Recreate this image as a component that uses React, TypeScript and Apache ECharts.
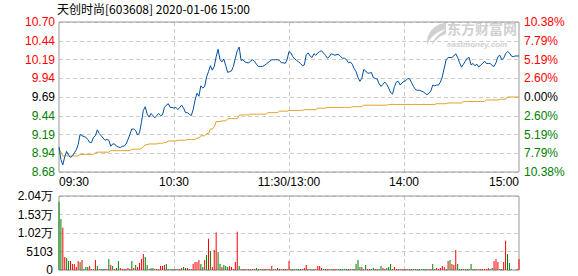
import React, { useEffect, useRef } from "react";
import * as echarts from "echarts";

const TITLE = "天创时尚[603608] 2020-01-06 15:00";
const PREV_CLOSE = 9.69;
const PRICE_STEP = 0.2515;
const PRICE_LABELS = ["8.68", "8.94", "9.19", "9.44", "9.69", "9.94", "10.19", "10.44", "10.70"];
const PCT_LABELS = ["10.38%", "7.79%", "5.19%", "2.60%", "0.00%", "2.60%", "5.19%", "7.79%", "10.38%"];
const VOL_MAX = 20412;
const VOL_STEP = 5103;
const VOL_LABELS = ["0", "5103", "1.02万", "1.53万", "2.04万"];
const TIME_LABELS = ["09:30", "10:30", "11:30/13:00", "14:00", "15:00"];

const PRICE = [
  9.02, 8.85, 8.78, 8.89, 8.96, 8.91, 8.88, 8.9, 8.94, 8.98,
  9.05, 9.19, 9.17, 9.16, 9.15, 9.12, 9.08, 9.08, 9.15, 9.17,
  9.25, 9.2, 9.17, 9.14, 9.11, 9.12, 9.11, 9.03, 9.06, 9.06,
  9.03, 9.02, 9.01, 9.03, 9.03, 9.06, 9.12, 9.19, 9.26, 9.26,
  9.24, 9.18, 9.21, 9.35, 9.51, 9.56, 9.46, 9.42, 9.47, 9.44,
  9.41, 9.44, 9.47, 9.44, 9.45, 9.55, 9.58, 9.6, 9.55, 9.55,
  9.54, 9.55, 9.52, 9.55, 9.58, 9.54, 9.48, 9.48, 9.46, 9.44,
  9.52, 9.65, 9.74, 9.7, 9.84, 9.81, 9.83, 9.96, 10.03, 10.11,
  10.05, 10.1, 10.23, 10.33, 10.19, 10.16, 10.2, 10.11, 10.02, 10.03,
  10.04, 10.1, 10.21, 10.31, 10.36, 10.18, 10.19, 10.16, 10.15, 10.15,
  10.17, 10.19, 10.17, 10.13, 10.1, 10.1, 10.1, 10.11, 10.13, 10.15,
  10.17, 10.19, 10.19, 10.19, 10.19, 10.18, 10.15, 10.15, 10.14, 10.19,
  10.3, 10.28, 10.23, 10.2, 10.18, 10.16, 10.14, 10.11, 10.12, 10.26,
  10.28, 10.24, 10.22, 10.27, 10.25, 10.28, 10.3, 10.31, 10.28, 10.25,
  10.21, 10.23, 10.27, 10.26, 10.25, 10.26, 10.26, 10.23, 10.21, 10.21,
  10.19, 10.15, 10.16, 10.13, 10.07, 10.03, 9.95, 9.9, 9.94, 10.06,
  10.04, 10.01, 10.01, 10.02, 9.95, 9.94, 9.93, 9.87, 9.83, 9.86,
  9.89, 9.86, 9.81, 9.75, 9.73, 9.83, 9.89, 9.9, 9.85, 9.88,
  9.9, 9.91, 9.94, 9.93, 9.88, 9.83, 9.79, 9.78, 9.78, 9.77,
  9.76, 9.74, 9.72, 9.74, 9.77, 9.85, 9.84, 9.85, 9.85, 9.89,
  9.96, 10.08, 10.19, 10.22, 10.22, 10.22, 10.24, 10.27, 10.22, 10.15,
  10.09, 10.13, 10.17, 10.21, 10.22, 10.12, 10.14, 10.11, 10.13, 10.09,
  10.12, 10.14, 10.17, 10.14, 10.14, 10.14, 10.11, 10.1, 10.15, 10.23,
  10.25, 10.19, 10.21, 10.27, 10.3, 10.28, 10.24, 10.23, 10.24, 10.24,
  10.24,
];

const AVG = [
  8.99, 8.95, 8.9, 8.9, 8.9, 8.9, 8.9, 8.9, 8.9, 8.9,
  8.9, 8.92, 8.92, 8.92, 8.92, 8.92, 8.92, 8.92, 8.92, 8.94,
  8.95, 8.95, 8.95, 8.95, 8.95, 8.95, 8.95, 8.97, 8.97, 8.97,
  8.97, 8.97, 8.97, 8.97, 8.97, 8.97, 8.97, 8.97, 8.99, 8.99,
  8.99, 8.99, 8.99, 9.0, 9.02, 9.05, 9.05, 9.06, 9.06, 9.06,
  9.06, 9.06, 9.07, 9.07, 9.07, 9.08, 9.08, 9.1, 9.1, 9.1,
  9.1, 9.1, 9.11, 9.11, 9.11, 9.11, 9.11, 9.12, 9.12, 9.12,
  9.12, 9.12, 9.14, 9.14, 9.17, 9.17, 9.17, 9.2, 9.2, 9.26,
  9.26, 9.29, 9.36, 9.36, 9.36, 9.37, 9.37, 9.37, 9.4, 9.4,
  9.4, 9.4, 9.4, 9.4, 9.44, 9.45, 9.45, 9.45, 9.45, 9.45,
  9.46, 9.46, 9.46, 9.46, 9.46, 9.46, 9.46, 9.46, 9.46, 9.48,
  9.48, 9.48, 9.48, 9.48, 9.48, 9.5, 9.5, 9.5, 9.5, 9.5,
  9.51, 9.51, 9.51, 9.51, 9.51, 9.51, 9.51, 9.51, 9.52, 9.52,
  9.52, 9.52, 9.52, 9.52, 9.52, 9.54, 9.54, 9.54, 9.54, 9.54,
  9.55, 9.55, 9.55, 9.55, 9.55, 9.55, 9.55, 9.55, 9.55, 9.55,
  9.55, 9.55, 9.55, 9.56, 9.56, 9.56, 9.56, 9.56, 9.56, 9.58,
  9.58, 9.58, 9.58, 9.58, 9.58, 9.58, 9.58, 9.58, 9.58, 9.58,
  9.58, 9.58, 9.59, 9.59, 9.59, 9.59, 9.59, 9.59, 9.59, 9.59,
  9.59, 9.59, 9.59, 9.59, 9.59, 9.59, 9.59, 9.59, 9.59, 9.59,
  9.59, 9.59, 9.59, 9.59, 9.59, 9.59, 9.59, 9.6, 9.6, 9.6,
  9.6, 9.6, 9.6, 9.61, 9.61, 9.61, 9.61, 9.61, 9.61, 9.61,
  9.61, 9.63, 9.63, 9.63, 9.63, 9.63, 9.63, 9.63, 9.63, 9.63,
  9.63, 9.63, 9.63, 9.65, 9.65, 9.65, 9.65, 9.65, 9.65, 9.65,
  9.66, 9.66, 9.66, 9.66, 9.69, 9.69, 9.69, 9.69, 9.69, 9.69,
  9.69,
];

const VOLUME = [
  18850, 14050, 11640, 3600, 3330, 2500, 2500, 1660, 1660, 830,
  2500, 2220, 2770, 280, 830, 830, 1110, 280, 280, 2770,
  1110, 280, 280, 280, 280, 280, 3050, 1390, 1110, 280,
  550, 2500, 550, 280, 280, 280, 550, 280, 2500, 550,
  1390, 830, 1940, 3050, 4440, 3600, 1390, 280, 550, 550,
  280, 280, 280, 1110, 1110, 1390, 1660, 280, 280, 280,
  280, 280, 280, 280, 550, 830, 550, 550, 280, 280,
  1660, 2220, 2220, 2770, 1660, 830, 2770, 4160, 8590, 5270,
  830, 5540, 10350, 4990, 1660, 830, 1390, 1110, 830, 1110,
  830, 280, 2220, 10530, 1110, 280, 280, 280, 280, 280,
  280, 280, 280, 550, 280, 280, 280, 280, 280, 280,
  280, 1110, 280, 280, 550, 280, 280, 280, 280, 280,
  2500, 280, 280, 280, 280, 280, 280, 280, 550, 1390,
  280, 280, 280, 280, 280, 1110, 1110, 550, 280, 280,
  280, 280, 280, 280, 280, 280, 280, 280, 280, 280,
  280, 280, 280, 280, 280, 1660, 2770, 830, 830, 280,
  1390, 280, 280, 280, 550, 280, 280, 280, 1110, 550,
  280, 550, 830, 1660, 280, 830, 280, 280, 280, 280,
  280, 280, 280, 280, 280, 280, 280, 280, 280, 280,
  280, 280, 280, 280, 280, 1660, 280, 550, 280, 550,
  1110, 830, 280, 2500, 2770, 1660, 1390, 5540, 1660, 280,
  280, 280, 280, 280, 280, 1660, 280, 280, 280, 280,
  280, 280, 280, 280, 550, 280, 550, 2500, 3050, 2220,
  280, 280, 2220, 8040, 4440, 1940, 280, 0, 0, 280,
  3050,
];

// r = up minute (red bar), g = down minute (green bar)
const VOLUME_DIR = (
  "ggrrggrrrr" +
  "rgrgggrrgr" +
  "grgggrgrgr" +
  "ggrrrrrrgr" +
  "grrrrggrgg" +
  "rrrrrrgggg" +
  "rgrgrggrrg" +
  "rrrrggrgrg" +
  "rrrggrgggr" +
  "rrrrgrggrr" +
  "rgrggrrgrr" +
  "grgrrgrrgr" +
  "rggggggrrr" +
  "grggrrrrgg" +
  "rrgrrggggg" +
  "ggrgggggrg" +
  "grrggrgggr" +
  "rgggrrrrgr" +
  "rrgrggrggg" +
  "gggrrgrrrr" +
  "rrgrgrrrgg" +
  "grggggrggr" +
  "rrrrrggrrr" +
  "ggrrgggggr" +
  "r"
).split("");

const RED = "#ff0000";
const GREEN = "#008000";
const GRID_LINE = { color: "#cccccc", type: [4, 3] as number[], width: 1 };
const FONT = "Arial, 'Liberation Sans', sans-serif";
const LOGO_PATH =
  "M20 0 C10 2 2 10 3 22 C6 14 12 9 22 6 C14 12 9 16 8 22 C13 15 18 12 22 11 L22 0 Z";

function buildCategories(): string[] {
  const out: string[] = [];
  for (let i = 0; i <= 240; i++) {
    const mins = i <= 120 ? 9 * 60 + 30 + i : 13 * 60 + (i - 120);
    const h = Math.floor(mins / 60);
    const m = mins % 60;
    out.push(String(h).padStart(2, "0") + ":" + String(m).padStart(2, "0"));
  }
  return out;
}

export default function App() {
  const ref = useRef<HTMLDivElement>(null);

  useEffect(() => {
    document.body.style.margin = "0";
    if (!ref.current) return;
    echarts.graphic.registerShape("emlogo", echarts.graphic.extendPath(LOGO_PATH, {}) as any);
    const chart = echarts.init(ref.current, undefined, { renderer: "svg" });

    const cats = buildCategories();
    const toTick = (p: number) => (p - PREV_CLOSE) / PRICE_STEP;
    const labelIdx = (v: any) => Math.round(Number(v)) + 4;
    const priceColor = (v: any) => {
      const n = Number(v);
      return n > 0.001 ? RED : n < -0.001 ? GREEN : "#000000";
    };

    const xAxisCommon = {
      type: "category" as const,
      data: cats,
      boundaryGap: false,
      axisLine: { show: false },
      axisTick: { show: false },
      splitLine: {
        show: true,
        interval: (i: number) => i === 60 || i === 120 || i === 180,
        lineStyle: GRID_LINE,
      },
    };

    chart.setOption({
      animation: false,
      backgroundColor: "#ffffff",
      title: {
        text: TITLE,
        left: 57,
        top: 2,
        padding: 0,
        textStyle: { fontSize: 12, fontWeight: "normal", color: "#000", fontFamily: "'Noto Sans CJK SC', sans-serif" },
      },
      graphic: [
        {
          type: "emlogo",
          x: 424,
          y: 23,
          z: 0,
          silent: true,
          style: { fill: "#d0d0d0" },
        },
        {
          type: "text",
          x: 447,
          y: 21,
          z: 0,
          silent: true,
          style: {
            text: "东方财富网",
            fill: "#d0d0d0",
            fontSize: 14,
            fontWeight: "bold",
            fontFamily: "'Noto Sans CJK SC', sans-serif",
            lineHeight: 14,
            verticalAlign: "top",
          },
        },
        {
          type: "text",
          x: 447,
          y: 40,
          z: 0,
          silent: true,
          style: {
            text: "eastmoney.com",
            fill: "#d0d0d0",
            fontSize: 8,
            fontWeight: "bold",
            fontStyle: "italic",
            fontFamily: "Arial, sans-serif",
            lineHeight: 8,
            verticalAlign: "top",
          },
        },
      ],
      grid: [
        { left: 59, top: 22, width: 460, height: 150, show: true, borderColor: "#999999", borderWidth: 1, backgroundColor: "transparent", z: 1 },
        { left: 59, top: 196, width: 460, height: 74, show: true, borderColor: "#999999", borderWidth: 1, backgroundColor: "transparent", z: 1 },
      ],
      xAxis: [
        {
          ...xAxisCommon,
          gridIndex: 0,
          axisLabel: {
            show: true,
            interval: (i: number) => i % 60 === 0,
            formatter: (_v: string, i: number) => TIME_LABELS[Math.round(i / 60)],
            margin: 4,
            color: "#000",
            fontSize: 12,
            fontFamily: FONT,
            showMinLabel: true,
            showMaxLabel: true,
            alignMinLabel: "left",
            alignMaxLabel: "right",
          },
        },
        {
          ...xAxisCommon,
          gridIndex: 1,
          axisLabel: { show: false },
        },
      ],
      yAxis: [
        {
          type: "value",
          gridIndex: 0,
          position: "left",
          min: -4,
          max: 4,
          interval: 1,
          axisLine: { show: false },
          axisTick: { show: false },
          axisLabel: {
            margin: 4,
            fontSize: 12,
            fontFamily: FONT,
            formatter: (v: number) => PRICE_LABELS[labelIdx(v)],
            color: priceColor,
          },
          splitLine: { show: true, lineStyle: GRID_LINE },
        },
        {
          type: "value",
          gridIndex: 0,
          position: "right",
          min: -4,
          max: 4,
          interval: 1,
          axisLine: { show: false },
          axisTick: { show: false },
          axisLabel: {
            margin: 5,
            fontSize: 12,
            fontFamily: FONT,
            formatter: (v: number) => PCT_LABELS[8 - labelIdx(v)],
            color: priceColor,
          },
          splitLine: { show: false },
        },
        {
          type: "value",
          gridIndex: 1,
          position: "left",
          min: 0,
          max: VOL_MAX,
          interval: VOL_STEP,
          axisLine: { show: false },
          axisTick: { show: false },
          axisLabel: {
            margin: 6,
            fontSize: 12,
            fontFamily: FONT,
            color: "#000",
            formatter: (v: number) => VOL_LABELS[Math.round(v / VOL_STEP)],
          },
          splitLine: { show: true, lineStyle: GRID_LINE },
        },
      ],
      series: [
        {
          type: "line",
          name: "avg",
          xAxisIndex: 0,
          yAxisIndex: 0,
          data: AVG.map(toTick),
          showSymbol: false,
          silent: true,
          lineStyle: { color: "#e0a020", width: 1 },
          z: 3,
        },
        {
          type: "line",
          name: "price",
          xAxisIndex: 0,
          yAxisIndex: 0,
          data: PRICE.map(toTick),
          showSymbol: false,
          silent: true,
          lineStyle: { color: "#0050a0", width: 1 },
          z: 4,
        },
        {
          type: "bar",
          name: "volume",
          xAxisIndex: 1,
          yAxisIndex: 2,
          barWidth: 1,
          silent: true,
          data: VOLUME.map((v, i) => ({
            value: v,
            itemStyle: { color: VOLUME_DIR[i] === "r" ? RED : GREEN },
          })),
        },
      ],
    });

    return () => {
      chart.dispose();
    };
  }, []);

  return <div ref={ref} style={{ width: 578, height: 276 }} />;
}
